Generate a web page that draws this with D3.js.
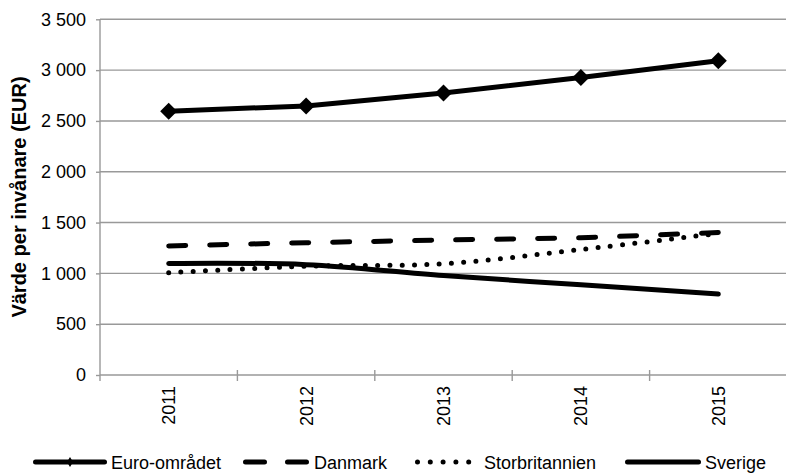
<!DOCTYPE html>
<html><head><meta charset="utf-8">
<script src="https://cdn.jsdelivr.net/npm/d3@7"></script>
<style>
html,body{margin:0;padding:0;background:#fff;}
svg{display:block;font-family:"Liberation Sans",Arial,sans-serif;}
</style></head>
<body>
<svg id="chart" width="786" height="473"></svg>
<script>
const years = ["2011","2012","2013","2014","2015"];
const euroomradet = [2595, 2648, 2775, 2927, 3092];
const danmark = [1270, 1302, 1328, 1350, 1402];
const storbritannien = [1006, 1070, 1095, 1235, 1393];
const sverige = [1098, 1086, 978, 888, 796];
const yTicks = [0, 500, 1000, 1500, 2000, 2500, 3000, 3500];
const seriesNames = ["Euro-området", "Danmark", "Storbritannien", "Sverige"];
const yTitle = "Värde per invånare (EUR)";

(function () {
const svg = d3.select("#chart");
const pLeft = 100, pRight = 787, pTop = 19.3, pBottom = 375;
const x = d3.scaleBand().domain(years).range([pLeft, pRight]);
const y = d3.scaleLinear().domain([0, 3500]).range([pBottom, pTop]);
const fmt = v => d3.format(",")(v).replace(/,/g, " ");

// gridlines
svg.append("g").selectAll("line").data(yTicks.filter(d => d > 0)).join("line")
  .attr("x1", pLeft).attr("x2", 786).attr("y1", d => y(d)).attr("y2", d => y(d))
  .attr("stroke", "#999").attr("stroke-width", 1.4);

// y axis
const ya = svg.append("g").attr("transform", `translate(${pLeft},0)`)
  .call(d3.axisLeft(y).tickValues(yTicks).tickFormat(fmt).tickSize(4).tickPadding(10));
ya.select(".domain").attr("stroke", "#999").attr("stroke-width", 1.4)
  .attr("d", `M0,${pTop}V${pBottom + 6}`);
ya.selectAll(".tick line").attr("stroke", "#999").attr("stroke-width", 1.4);
ya.selectAll(".tick text").attr("font-size", 18).attr("fill", "#000")
  .attr("font-family", "Liberation Sans, Arial, sans-serif");

// x axis
const xa = svg.append("g").attr("transform", `translate(0,${pBottom})`);
xa.append("line").attr("x1", pLeft).attr("x2", 786).attr("y1", 0).attr("y2", 0)
  .attr("stroke", "#999").attr("stroke-width", 1.4);
const bounds = years.map(d => x(d)).slice(1);
xa.selectAll("line.tk").data(bounds).join("line").attr("class", "tk")
  .attr("x1", d => d).attr("x2", d => d).attr("y1", -5).attr("y2", 6)
  .attr("stroke", "#999").attr("stroke-width", 1.4);
xa.selectAll("text").data(years).join("text")
  .attr("transform", d => `translate(${x(d) + x.bandwidth() / 2 + 6.5},11) rotate(-90)`)
  .attr("text-anchor", "end").attr("font-size", 18).attr("fill", "#000")
  .text(d => d);

// y title
svg.append("text").attr("transform", "translate(26,197) rotate(-90)")
  .attr("text-anchor", "middle").attr("font-size", 20).attr("font-weight", "bold")
  .text(yTitle);

const cx = d => x(d) + x.bandwidth() / 2;
const series = [
  {name: seriesNames[0], vals: euroomradet, dash: null, curve: d3.curveLinear, marker: true},
  {name: seriesNames[1], vals: danmark, dash: "17,24", curve: d3.curveLinear},
  {name: seriesNames[2], vals: storbritannien, dash: "0,12.3", curve: d3.curveCatmullRom.alpha(0.5)},
  {name: seriesNames[3], vals: sverige, dash: null, curve: d3.curveCatmullRom.alpha(0.5)}
];
series.forEach(s => {
  const line = d3.line().x((v, i) => cx(years[i])).y(v => y(v)).curve(s.curve);
  svg.append("path").attr("d", line(s.vals)).attr("fill", "none")
    .attr("stroke", "#000").attr("stroke-width", 5)
    .attr("stroke-linecap", "round").attr("stroke-linejoin", "round")
    .attr("stroke-dasharray", s.dash);
  if (s.marker) {
    svg.append("g").selectAll("path").data(s.vals).join("path")
      .attr("d", (v, i) => {
        const px = cx(years[i]), py = y(v), r = 8.5;
        return `M${px},${py - r}L${px + r},${py}L${px},${py + r}L${px - r},${py}Z`;
      }).attr("fill", "#000");
  }
});

// legend
const legendX = [33, 243, 415, 625];
const legendLen = [74, 67, 65, 76];
const ly = 462;
const lg = svg.append("g");
series.forEach((s, i) => {
  const x0 = legendX[i], len = legendLen[i];
  lg.append("line").attr("x1", x0 + 2.5).attr("x2", x0 + len - 2.5).attr("y1", ly).attr("y2", ly)
    .attr("stroke", "#000").attr("stroke-width", 5).attr("stroke-linecap", "round")
    .attr("stroke-dasharray", i === 1 ? "19,23" : (i === 2 ? "0,12.8" : null));
  if (s.marker) {
    const mx = x0 + 37;
    lg.append("path").attr("d", `M${mx},${ly - 5}L${mx + 3},${ly}L${mx},${ly + 5}L${mx - 3},${ly}Z`).attr("fill", "#000");
  }
  lg.append("text").attr("x", x0 + len + 4).attr("y", ly + 6.5).attr("font-size", 18)
    .attr("fill", "#000").text(s.name);
});
})();
</script>
</body></html>
